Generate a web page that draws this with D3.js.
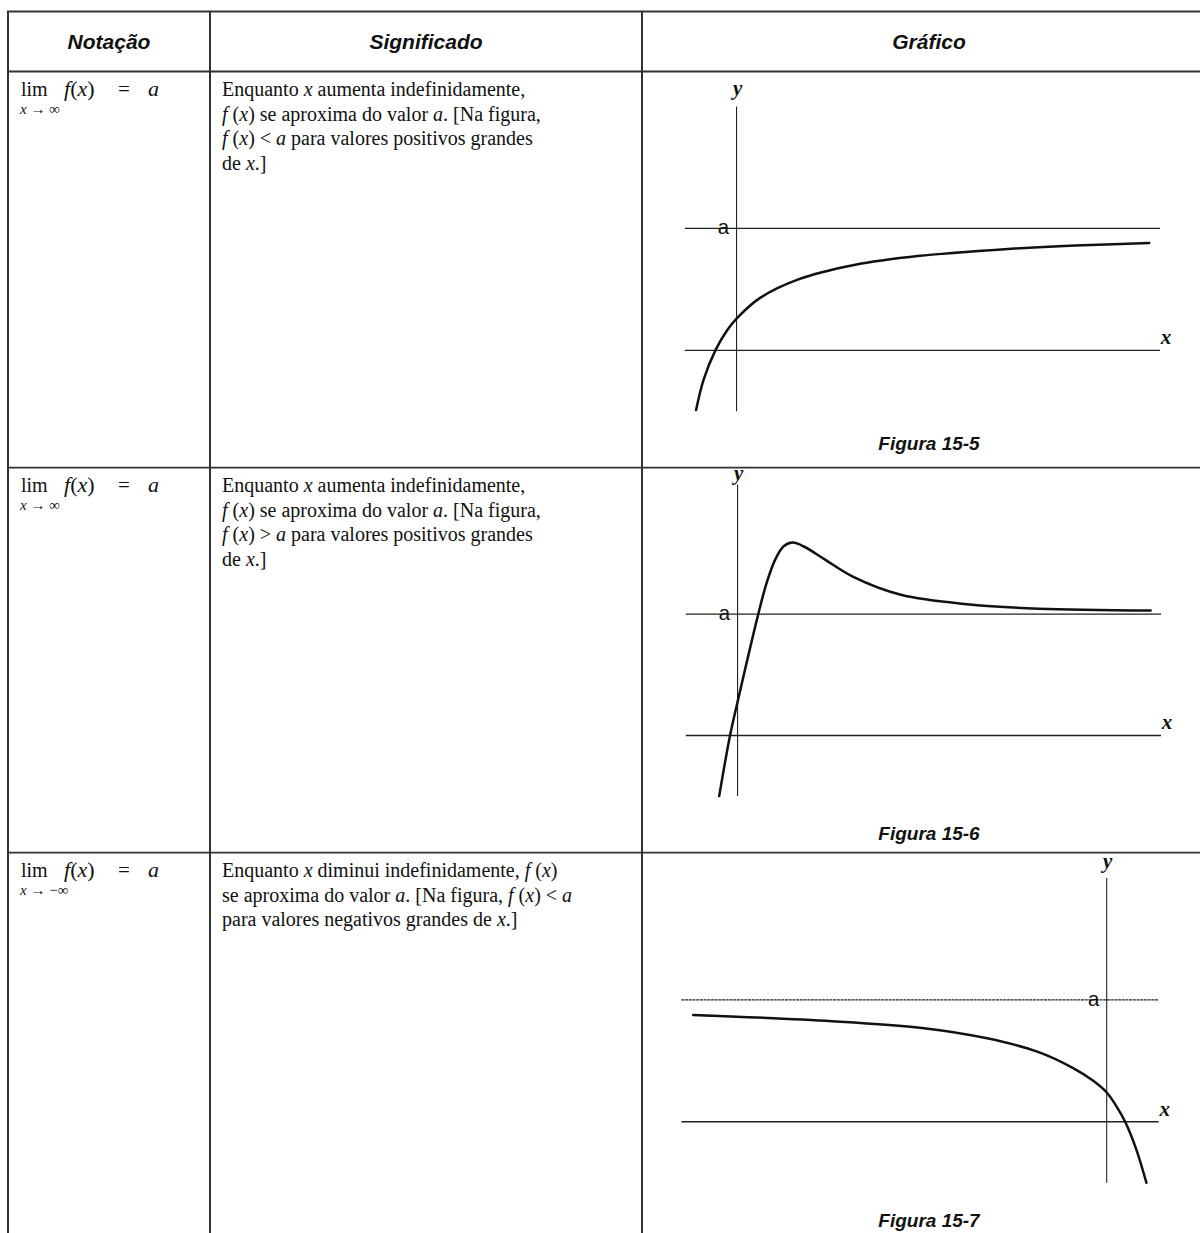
<!DOCTYPE html>
<html>
<head>
<meta charset="utf-8">
<script src="https://cdn.jsdelivr.net/npm/d3@7"></script>
<style>
  body { margin: 0; background: #fff; }
</style>
</head>
<body>
<div id="chart"></div>
<script>
// table text
var headers = ["Notação", "Significado", "Gráfico"];
var limitSubs = ["x → ∞", "x → ∞", "x → −∞"];
// each line is a list of [text, italic]
var meanings = [
  [
    [["Enquanto ", 0], ["x", 1], [" aumenta indefinidamente,", 0]],
    [["f", 1], [" (", 0], ["x", 1], [") se aproxima do valor ", 0], ["a", 1], [". [Na figura,", 0]],
    [["f", 1], [" (", 0], ["x", 1], [") < ", 0], ["a", 1], [" para valores positivos grandes", 0]],
    [["de ", 0], ["x", 1], [".]", 0]]
  ],
  [
    [["Enquanto ", 0], ["x", 1], [" aumenta indefinidamente,", 0]],
    [["f", 1], [" (", 0], ["x", 1], [") se aproxima do valor ", 0], ["a", 1], [". [Na figura,", 0]],
    [["f", 1], [" (", 0], ["x", 1], [") > ", 0], ["a", 1], [" para valores positivos grandes", 0]],
    [["de ", 0], ["x", 1], [".]", 0]]
  ],
  [
    [["Enquanto ", 0], ["x", 1], [" diminui indefinidamente, ", 0], ["f", 1], [" (", 0], ["x", 1], [")", 0]],
    [["se aproxima do valor ", 0], ["a", 1], [". [Na figura, ", 0], ["f", 1], [" (", 0], ["x", 1], [") < ", 0], ["a", 1]],
    [["para valores negativos grandes de ", 0], ["x", 1], [".]", 0]]
  ]
];
var figureLabels = ["Figura 15-5", "Figura 15-6", "Figura 15-7"];

// graph data, in axis units (a = 1)
var xDomains = [[-1.1, 9], [-1.1, 9], [-9, 1.1]];
var yDomains = [[-0.5, 2], [-0.5, 2.07], [-0.5, 2]];
var aValue = 1;
var curve1 = [[-0.86, -0.49], [-0.7, -0.24], [-0.45, 0], [-0.2, 0.165], [0, 0.26], [0.5, 0.43],
              [1.3, 0.58], [2.5, 0.7], [3.9, 0.775], [5.7, 0.83], [7.2, 0.86], [8.77, 0.88]];
var curve2 = [[-0.39, -0.5], [-0.16, 0], [0.02, 0.31], [0.44, 1.0], [0.62, 1.26], [0.8, 1.45],
              [0.98, 1.56], [1.17, 1.59], [1.4, 1.56], [1.86, 1.45], [2.45, 1.31], [3.47, 1.16],
              [4.94, 1.08], [6.4, 1.045], [8.78, 1.03]];
var curve3 = [[-8.75, 0.876], [-5.81, 0.825], [-3.91, 0.769], [-2.53, 0.684], [-1.44, 0.571],
              [-0.71, 0.44], [-0.3, 0.34], [0, 0.24], [0.2, 0.13], [0.39, 0], [0.62, -0.22],
              [0.84, -0.5]];
var curves = [curve1, curve2, curve3];

var W = 1200, H = 1233;
var svg = d3.select("#chart").append("svg")
    .attr("width", W).attr("height", H);

// table grid
var colX = [8, 210, 642, 1200];
var rowY = [11.5, 71.5, 467.7, 852.7, 1233];
var lineColor = "#333";

rowY.slice(0, 4).forEach(function(y) {
  svg.append("line").attr("x1", colX[0] - 1).attr("x2", W).attr("y1", y).attr("y2", y)
    .attr("stroke", lineColor).attr("stroke-width", 1.8);
});
colX.slice(0, 3).forEach(function(x) {
  svg.append("line").attr("x1", x).attr("x2", x).attr("y1", rowY[0]).attr("y2", H)
    .attr("stroke", lineColor).attr("stroke-width", 2);
});

// headers
var headerCenters = [109, 426, 929];
headers.forEach(function(h, i) {
  svg.append("text")
    .attr("x", headerCenters[i]).attr("y", 49)
    .attr("text-anchor", "middle")
    .attr("font-family", "Liberation Sans, Arial, sans-serif")
    .attr("font-weight", "bold").attr("font-style", "italic")
    .attr("font-size", "21px").attr("fill", "#111")
    .text(h);
});

var serif = "Liberation Serif, Times New Roman, serif";
var textSize = 20;
var lineStep = 24.5;

// notation + meaning cells
for (var r = 0; r < 3; r++) {
  var base = rowY[r + 1] + 24.5;
  var lim = svg.append("text").attr("y", base)
    .attr("font-family", serif).attr("font-size", "20px").attr("fill", "#111");
  lim.append("tspan").attr("x", 21).text("lim");
  lim.append("tspan").attr("x", 64).attr("font-style", "italic").attr("font-size", "22px").text("f");
  lim.append("tspan").attr("font-size", "22px").text("(");
  lim.append("tspan").attr("font-style", "italic").attr("font-size", "22px").text("x");
  lim.append("tspan").attr("font-size", "22px").text(")");
  lim.append("tspan").attr("x", 118).attr("font-size", "21px").text("=");
  lim.append("tspan").attr("x", 148).attr("font-style", "italic").attr("font-size", "22px").text("a");

  var sub = svg.append("text").attr("x", 20).attr("y", base + 18)
    .attr("font-family", serif).attr("font-size", "15px").attr("fill", "#111");
  sub.append("tspan").attr("font-style", "italic").text("x");
  sub.append("tspan").text(limitSubs[r].slice(1));

  meanings[r].forEach(function(line, k) {
    var t = svg.append("text").attr("x", 222).attr("y", base + k * lineStep)
      .attr("font-family", serif).attr("font-size", textSize + "px").attr("fill", "#111")
      .style("white-space", "pre");
    line.forEach(function(seg) {
      t.append("tspan").attr("font-style", seg[1] ? "italic" : "normal").text(seg[0]);
    });
  });
}

// graph frames (pixels)
var frames = [
  {left: 684.8, right: 1160, top: 106.5, bottom: 411.3},
  {left: 685.8, right: 1161, top: 484.4, bottom: 796.1},
  {left: 681.4, right: 1158.7, top: 877.9, bottom: 1182.7}
];
var figBase = [450, 840, 1227];
var yLabelLift = [12, 4, 10];

curves.forEach(function(data, i) {
  var f = frames[i];
  var x = d3.scaleLinear().domain(xDomains[i]).range([f.left, f.right]);
  var y = d3.scaleLinear().domain(yDomains[i]).range([f.bottom, f.top]);
  var g = svg.append("g");

  // x axis and asymptote y = a
  [0, aValue].forEach(function(v) {
    g.append("line")
      .attr("x1", x(xDomains[i][0])).attr("x2", x(xDomains[i][1]))
      .attr("y1", y(v)).attr("y2", y(v))
      .attr("stroke", "#222").attr("stroke-width", v === 0 ? 1.4 : 1.2)
      .attr("stroke-dasharray", i === 2 && v === aValue ? "3,0.7" : null);
  });
  // y axis
  g.append("line")
    .attr("x1", x(0)).attr("x2", x(0))
    .attr("y1", y(yDomains[i][0])).attr("y2", y(yDomains[i][1]))
    .attr("stroke", "#222").attr("stroke-width", 1.1);

  var line = d3.line()
    .x(function(d) { return x(d[0]); })
    .y(function(d) { return y(d[1]); })
    .curve(d3.curveCatmullRom.alpha(0.5));
  g.append("path").datum(data)
    .attr("d", line)
    .attr("fill", "none").attr("stroke", "#111").attr("stroke-width", 2.5)
    .attr("stroke-linecap", "round");

  // labels
  g.append("text").attr("x", x(0) + 1).attr("y", y(yDomains[i][1]) - yLabelLift[i])
    .attr("text-anchor", "middle")
    .attr("font-family", serif).attr("font-style", "italic").attr("font-weight", "bold")
    .attr("font-size", "21px").attr("fill", "#111").text("y");
  g.append("text").attr("x", x(xDomains[i][1]) + 6).attr("y", y(0) - 6)
    .attr("text-anchor", "middle")
    .attr("font-family", serif).attr("font-style", "italic").attr("font-weight", "bold")
    .attr("font-size", "21px").attr("fill", "#111").text("x");
  g.append("text").attr("x", x(0) - 13).attr("y", y(aValue) + 6)
    .attr("text-anchor", "middle")
    .attr("font-family", "Liberation Mono, Courier New, monospace")
    .attr("font-size", "21px").attr("fill", "#111").text("a");

  svg.append("text").attr("x", 929).attr("y", figBase[i])
    .attr("text-anchor", "middle")
    .attr("font-family", "Liberation Sans, Arial, sans-serif")
    .attr("font-weight", "bold").attr("font-style", "italic")
    .attr("font-size", "19px").attr("fill", "#111")
    .text(figureLabels[i]);
});
</script>
</body>
</html>
